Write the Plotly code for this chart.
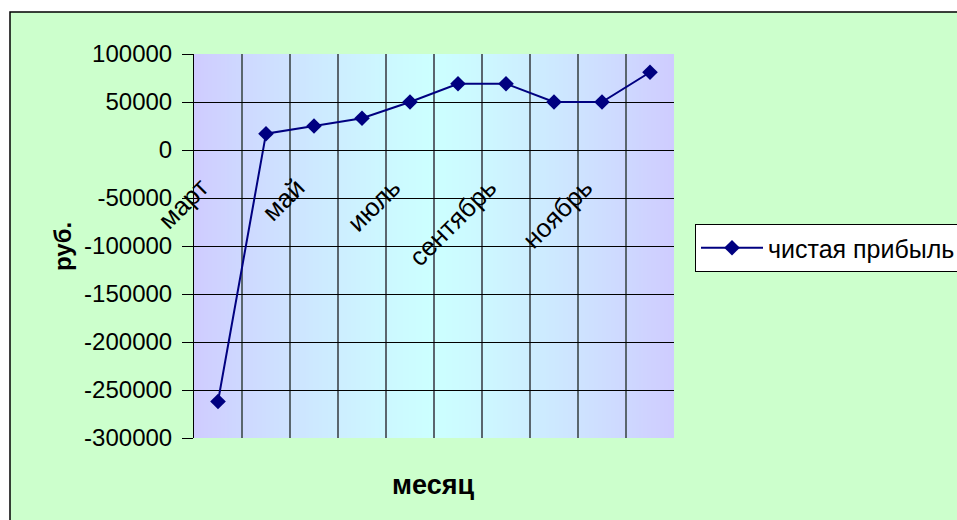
import base64
import struct
import zlib

import plotly.graph_objects as go

# ---------------- data ----------------
months = ["март", "апрель", "май", "июнь", "июль", "август",
          "сентябрь", "октябрь", "ноябрь", "декабрь"]
profit = [-262000, 17000, 25000, 33000, 50000, 69000, 69000, 50000, 50000, 81000]
series_name = "чистая прибыль"
y_ticks = [100000, 50000, 0, -50000, -100000, -150000, -200000, -250000, -300000]

x_pos = list(range(1, len(months) + 1))
label_pos = x_pos[::2]
label_text = months[::2]
boundaries = [p + 0.5 for p in x_pos[:-1]]


# ---------------- gradient background (purple - cyan - purple) ----------------
def gradient_png(width=256, height=2):
    edge = (207, 204, 255)
    mid = (204, 255, 255)
    rows = []
    for _ in range(height):
        row = bytearray([0])
        for i in range(width):
            t = abs((i + 0.5) / width - 0.5) * 2  # 0 centre, 1 edge
            t = t ** 1.2
            c = [round(m + (e - m) * t) for m, e in zip(mid, edge)]
            row.extend(c)
        rows.append(bytes(row))
    raw = b"".join(rows)

    def chunk(tag, data):
        return (struct.pack(">I", len(data)) + tag + data +
                struct.pack(">I", zlib.crc32(tag + data) & 0xFFFFFFFF))

    png = b"\x89PNG\r\n\x1a\n"
    png += chunk(b"IHDR", struct.pack(">IIBBBBB", width, height, 8, 2, 0, 0, 0))
    png += chunk(b"IDAT", zlib.compress(raw, 9))
    png += chunk(b"IEND", b"")
    return "data:image/png;base64," + base64.b64encode(png).decode()


FONT = "Liberation Sans, Arial, sans-serif"
W, H = 957, 520
# plot area in window pixels: x 194..674, y 54..438
ML, MT = 194, 54
MR = W - 674
MB = H - 438
PW, PH = W - ML - MR, H - MT - MB


def px(xw):
    return (xw - ML) / PW


def py(yw):
    return (H - MB - yw) / PH


fig = go.Figure()
fig.add_trace(go.Scatter(
    x=x_pos, y=profit, name=series_name, mode="lines+markers",
    line=dict(color="#000080", width=2),
    marker=dict(symbol="diamond", size=12, color="#000080"),
))

fig.update_layout(
    width=W, height=H,
    margin=dict(l=ML, r=MR, t=MT, b=MB, pad=0, autoexpand=False),
    paper_bgcolor="white",
    plot_bgcolor="rgba(0,0,0,0)",
    font=dict(family=FONT, size=24, color="black"),
    showlegend=True,
    legend=dict(
        x=px(695), xanchor="left", y=py(224), yanchor="top",
        bgcolor="white", bordercolor="black", borderwidth=1,
        font=dict(family=FONT, size=25, color="black"),
        itemwidth=62,
    ),
    xaxis=dict(
        range=[0.5, len(months) + 0.5],
        anchor="free", position=0.75,
        tickmode="array", tickvals=label_pos, ticktext=label_text,
        tickangle=-45, ticks="", showgrid=False, zeroline=False,
        ticklabelshift=-17, ticklabelstandoff=11,
        showline=True, linecolor="black", linewidth=1,
        tickfont=dict(family=FONT, size=26, color="black"),
        minor=dict(tickmode="array", tickvals=boundaries, showgrid=True,
                   gridcolor="#5a666e", gridwidth=2, ticks=""),
    ),
    yaxis=dict(
        range=[-300000, 100000],
        tickmode="array", tickvals=y_ticks, ticktext=[str(v) for v in y_ticks],
        ticks="outside", ticklen=11, tickcolor="black", tickwidth=1,
        ticklabelstandoff=5,
        showgrid=False, zeroline=False,
        showline=True, linecolor="black", linewidth=1,
        tickfont=dict(family=FONT, size=24, color="black"),
        minor=dict(tickmode="array", tickvals=y_ticks[1:-1], showgrid=True,
                   gridcolor="black", gridwidth=1, ticks=""),
    ),
    images=[dict(
        source=gradient_png(), xref="x", yref="y",
        x=0.5, y=100000, sizex=len(months), sizey=400000,
        xanchor="left", yanchor="top", sizing="stretch", layer="below",
    )],
    shapes=[
        dict(type="rect", xref="paper", yref="paper", layer="below",
             x0=px(10), x1=px(975), y0=py(540), y1=py(12),
             fillcolor="#CCFFCC", line=dict(color="black", width=1.5)),
    ],
    annotations=[
        dict(text="<b>руб.</b>", xref="paper", yref="paper",
             x=px(62), y=py(247), xanchor="center", yanchor="middle",
             textangle=-90, showarrow=False,
             font=dict(family=FONT, size=24, color="black")),
        dict(text="<b>месяц</b>", xref="paper", yref="paper",
             x=px(433), y=py(485), xanchor="center", yanchor="middle",
             showarrow=False,
             font=dict(family=FONT, size=27, color="black")),
    ],
)

fig.write_html(
    "out.html",
    config={"displayModeBar": False},
    post_script="document.body.style.margin='0';document.body.style.overflow='hidden';",
)
